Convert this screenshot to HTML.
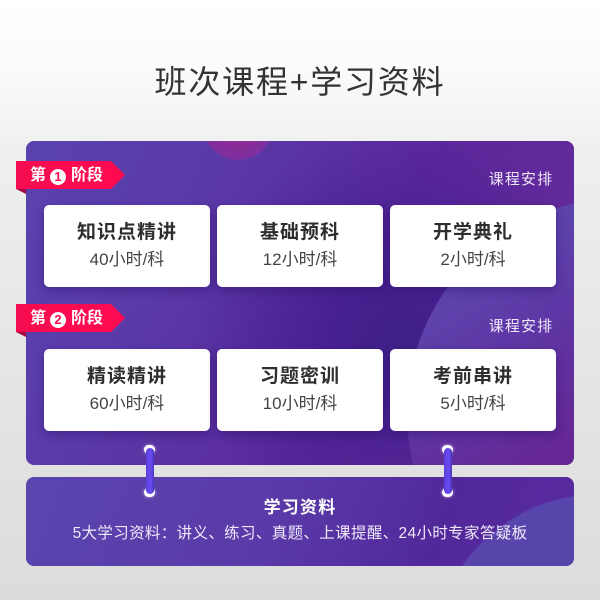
<!DOCTYPE html>
<html lang="zh">
<head>
<meta charset="utf-8">
<style>
html,body{margin:0;padding:0;width:600px;height:600px;overflow:hidden}
body{position:relative;font-family:"Liberation Sans","Noto Sans CJK SC",sans-serif;background:linear-gradient(180deg,#fff 0,#fbfbfb 70px,#eef0f0 150px,#e6e6e6 350px,#dcdcdc 600px)}
div{position:absolute;box-sizing:border-box}
.title{left:0;top:59px;width:600px;text-align:center;font-size:32px;line-height:46px;letter-spacing:1.8px;color:#333}
.panel{left:26px;width:548px;border-radius:8px;overflow:hidden;background:linear-gradient(115deg,#5a43ae 0,#5a3aa8 28%,#5c289b 60%,#672a9c 100%)}
.layer{left:0;top:0;width:100%;height:100%}
.card{width:166px;height:82px;border-radius:5px;background:#fff;box-shadow:0 4px 10px rgba(45,15,110,.45);text-align:center;color:#333}
.card .a{left:0;width:100%;top:15px;font-size:19px;line-height:26px;font-weight:bold;letter-spacing:1px;color:#2e2e2e}
.card .b{left:0;width:100%;top:42px;font-size:17px;line-height:26px;color:#444}
.rib{left:16px;width:109px;height:28px;background:linear-gradient(90deg,#f60c50,#ff0a50);clip-path:polygon(0 0,95px 0,109px 14px,95px 28px,0 28px)}
.fold{left:16px;width:10px;height:5px;background:#a4093f;clip-path:polygon(0 0,10px 0,10px 5px)}
.ribt{left:30px;width:90px;height:28px;line-height:30px;font-size:16px;font-weight:bold;color:#fff;white-space:nowrap;overflow:hidden}
.num{display:inline-block;width:16px;height:16px;border-radius:50%;background:#fff;color:#f60c50;font-size:13px;line-height:16px;text-align:center;margin:0 5px 0 4px;vertical-align:-1px}
.lnk{left:470px;width:102px;text-align:center;font-size:15px;line-height:20px;letter-spacing:1.1px;color:#f0e8fa}
.hole{width:11px;height:9px;border-radius:5.5px;background:#fff;box-shadow:0 0 3px rgba(255,255,255,.6)}
.bar{width:8.5px;height:46px;border-radius:4px;background:linear-gradient(90deg,#5c3fe0,#6a4cf0 60%,#4a35c0)}
</style>
</head>
<body>
<div class="title">班次课程+学习资料</div>

<div class="panel" style="top:141px;height:324px">
  <div class="layer" style="background:radial-gradient(circle at 375px 200px,#3e2188 0,rgba(66,30,140,.85) 60px,rgba(80,30,150,0) 210px)"></div>
  <div class="layer" style="clip-path:circle(215px at 596px 272px);background:linear-gradient(145deg,#5c46ae 15%,#5f35a4 32%,#662694 50%) 381px 57px/430px 430px no-repeat"></div>
  <div class="layer" style="clip-path:circle(35px at 212px -16px);background:radial-gradient(circle 35px at 212px -16px,#96298f 0,#8a2c98 60%,#7c309f 100%)"></div>
</div>

<div class="rib" style="top:161px"></div>
<div class="fold" style="top:189px"></div>
<div class="ribt" style="top:161px">第<span class="num">1</span>阶段</div>
<div class="lnk" style="top:170px">课程安排</div>

<div class="card" style="left:44px;top:205px"><div class="a">知识点精讲</div><div class="b">40小时/科</div></div>
<div class="card" style="left:217px;top:205px"><div class="a">基础预科</div><div class="b">12小时/科</div></div>
<div class="card" style="left:390px;top:205px"><div class="a">开学典礼</div><div class="b">2小时/科</div></div>

<div class="rib" style="top:304px"></div>
<div class="fold" style="top:332px"></div>
<div class="ribt" style="top:304px">第<span class="num">2</span>阶段</div>
<div class="lnk" style="top:317px">课程安排</div>

<div class="card" style="left:44px;top:349px"><div class="a">精读精讲</div><div class="b">60小时/科</div></div>
<div class="card" style="left:217px;top:349px"><div class="a">习题密训</div><div class="b">10小时/科</div></div>
<div class="card" style="left:390px;top:349px"><div class="a">考前串讲</div><div class="b">5小时/科</div></div>

<div class="panel" style="top:477px;height:89px;background:linear-gradient(110deg,#5a45ae 0,#5a3aa8 45%,#51289a 75%,#5a2ba0 100%)">
  <div class="layer" style="clip-path:circle(168px at 574px 185px);background:#5845ac"></div>
</div>

<div class="hole" style="left:144px;top:445px"></div>
<div class="hole" style="left:144px;top:488px"></div>
<div class="hole" style="left:442px;top:445px"></div>
<div class="hole" style="left:442px;top:488px"></div>
<div class="bar" style="left:145.5px;top:448px"></div>
<div class="bar" style="left:443.5px;top:448px"></div>

<div style="left:26px;top:496px;width:548px;text-align:center;font-size:17px;line-height:24px;font-weight:bold;letter-spacing:1.2px;color:#fff">学习资料</div>
<div style="left:26px;top:522px;width:548px;text-align:center;font-size:15.5px;line-height:24px;letter-spacing:.35px;color:#efe9fa;white-space:nowrap">5大学习资料：讲义、练习、真题、上课提醒、24小时专家答疑板</div>
</body>
</html>
